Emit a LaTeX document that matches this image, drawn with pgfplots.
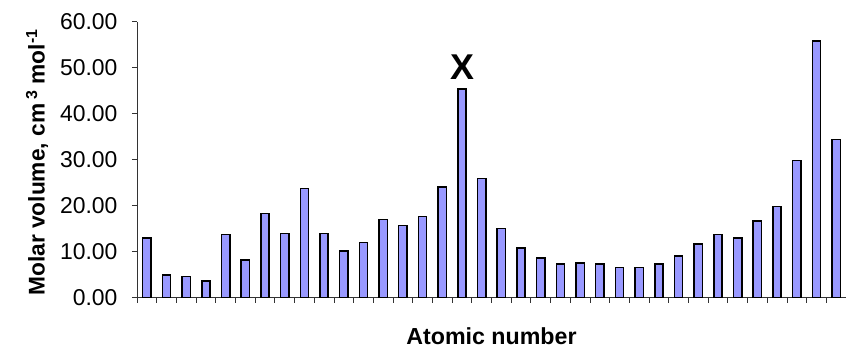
\documentclass[border=0pt]{standalone}
\usepackage{pgfplots}
\pgfplotsset{compat=1.18}
\usepackage{fontspec}
\setmainfont{Liberation Sans}
\definecolor{barblue}{RGB}{153,153,255}
\begin{document}
\begin{tikzpicture}
\begin{axis}[
  at={(137bp,51.3bp)}, anchor=south west,
  scale only axis,
  width=709bp, height=276bp,
  xmin=0.5, xmax=36.5,
  ymin=0, ymax=60,
  axis lines*=left,
  axis line style={line width=0.8pt, black!80},
  xtick={0.5,1.5,...,36.5},
  xticklabels={},
  ytick={0,10,...,60},
  tick align=outside,
  major tick length=5bp,
  tick style={line width=0.8pt, black!80},
  /pgf/number format/.cd, fixed, fixed zerofill, precision=2, assume math mode=true,
  /pgfplots/.cd,
  yticklabel style={font=\fontsize{23}{25}\selectfont, xshift=-11bp},
  ylabel={\textbf{Molar volume, cm\,\textsuperscript{3} mol\textsuperscript{-1}}},
  ylabel style={font=\fontsize{22.8}{25}\selectfont, at={(axis description cs:-0.141,0.49)}, anchor=center, rotate=0},
  xlabel={\textbf{Atomic number}},
  xlabel style={font=\fontsize{23.3}{25}\selectfont, at={(axis description cs:0.5,-0.17)}, anchor=base},
  ybar, bar width=0.42,
  clip=false,
]
\addplot[draw=black, line width=1.5pt, fill=barblue] coordinates {
(1,13.0) (2,4.9) (3,4.6) (4,3.6) (5,13.7) (6,8.2) (7,18.3) (8,14.0) (9,23.7)
(10,14.0) (11,10.1) (12,12.0) (13,17.0) (14,15.7) (15,17.6) (16,24.1) (17,45.4)
(18,25.9) (19,15.0) (20,10.8) (21,8.6) (22,7.3) (23,7.5) (24,7.3) (25,6.6)
(26,6.6) (27,7.3) (28,9.1) (29,11.7) (30,13.7) (31,13.0) (32,16.7) (33,19.8)
(34,29.8) (35,55.8) (36,34.4)
};
\node[anchor=base, font=\fontsize{36}{38}\selectfont\bfseries, inner sep=0pt] at (axis cs:17,47.5) {X};
\end{axis}
\pgfresetboundingbox
\path (0,0) rectangle (846bp,349bp);
\end{tikzpicture}
\end{document}
